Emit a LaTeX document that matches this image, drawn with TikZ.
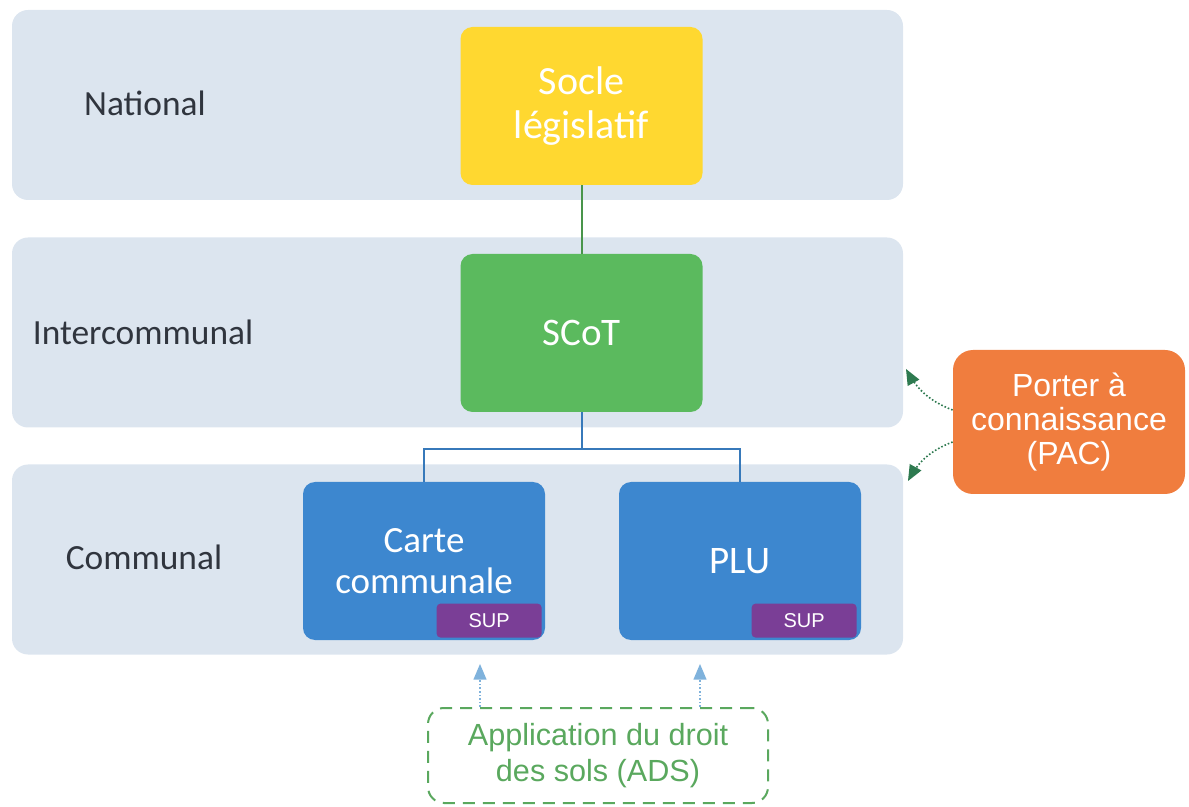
\documentclass[tikz,border=0pt]{standalone}
\usepackage{fontspec}
\setmainfont{Carlito}
\newfontfamily\arialfont{Liberation Sans}
\usetikzlibrary{arrows}

\definecolor{bandgray}{HTML}{DCE5EF}
\definecolor{levelgray}{HTML}{30353E}
\definecolor{socleyellow}{HTML}{FFD830}
\definecolor{scotgreen}{HTML}{5BBA5E}
\definecolor{commblue}{HTML}{3D87CF}
\definecolor{suppurple}{HTML}{7A3E96}
\definecolor{pacorange}{HTML}{F07D3E}
\definecolor{pacgreen}{HTML}{2E7A50}
\definecolor{adsgreen}{HTML}{5AA85E}
\definecolor{adsblue}{HTML}{7FB2DC}

\begin{document}
\begin{tikzpicture}[x=0.5pt,y=-0.5pt,
  band/.style={fill=bandgray,rounded corners=8pt,minimum width=445.5pt,minimum height=95pt,inner sep=0pt},
  level/.style={text=levelgray,font=\fontsize{17.7}{20}\selectfont},
  block/.style={rounded corners=6pt,minimum width=121pt,minimum height=79pt,inner sep=0pt,
    text=white,align=center,font=\fontsize{19.5}{21}\selectfont},
  suptag/.style={fill=suppurple,text=white,font=\arialfont\fontsize{10}{12}\selectfont,
    minimum width=52.5pt,minimum height=17pt,inner sep=0pt,rounded corners=2pt},
  link/.style={line width=1pt}]
\useasboundingbox (0,0) rectangle (1189,807);

% niveaux
\node[band] (national) at (457.5,105) {};
\node[band] (interco) at (457.5,332.5) {};
\node[band] (communal) at (457.5,559.5) {};
\node[level] (natlabel) at (145,103) {National};
\node[level] (intlabel) at (143,332) {Intercommunal};
\node[level] (comlabel) at (144,557) {Communal};

% documents
\node[block,fill=socleyellow,font=\fontsize{20}{22}\selectfont] (socle) at (581.5,106) {Socle\\législatif};
\node[block,fill=scotgreen] (scot) at (581.5,333) {SCoT};
\node[block,fill=commblue,font=\fontsize{18.5}{20.5}\selectfont] (carte) at (424,561) {Carte\\communale};
\node[block,fill=commblue] (plu) at (740,561) {PLU};
\node[suptag,anchor=south east] (supcarte) at (542,638) {SUP};
\node[suptag,anchor=south east] (supplu) at (857,638) {SUP};

\draw[link,scotgreen!80!black] (socle) -- (scot);
\coordinate (fork) at (581.5,449);
\draw[link,commblue!90!black] (scot) -- (fork) -| (carte);
\draw[link,commblue!90!black] (fork) -| (plu);

% PAC
\node[fill=pacorange,rounded corners=10pt,minimum width=116pt,minimum height=72pt,inner sep=0pt,
  text=white,align=center,font=\arialfont\fontsize{16}{17}\selectfont] (pac) at (1069,422)
  {Porter à\\connaissance\\(PAC)};
\coordinate (pacup) at (906,369);
\coordinate (pacdown) at (908,481);
\draw[pacgreen,densely dotted,thick,->,>=triangle 45] (pac.west |- 0,410) to[bend left=20] (pacup);
\draw[pacgreen,densely dotted,thick,->,>=triangle 45] (pac.west |- 0,442) to[bend right=20] (pacdown);

% ADS
\node[draw=adsgreen,line width=1pt,dash pattern=on 6pt off 4pt,rounded corners=8pt,
  minimum width=170pt,minimum height=47.5pt,inner sep=0pt,text=adsgreen,align=center,
  font=\arialfont\fontsize{15.3}{18}\selectfont] (ads) at (598,755.5)
  {Application du droit\\des sols (ADS)};
\coordinate (adsleft) at (480,664);
\coordinate (adsright) at (700,664);
\draw[adsblue,densely dotted,thick,->,>=triangle 45] (ads.north -| adsleft) -- (adsleft);
\draw[adsblue,densely dotted,thick,->,>=triangle 45] (ads.north -| adsright) -- (adsright);
\end{tikzpicture}
\end{document}
